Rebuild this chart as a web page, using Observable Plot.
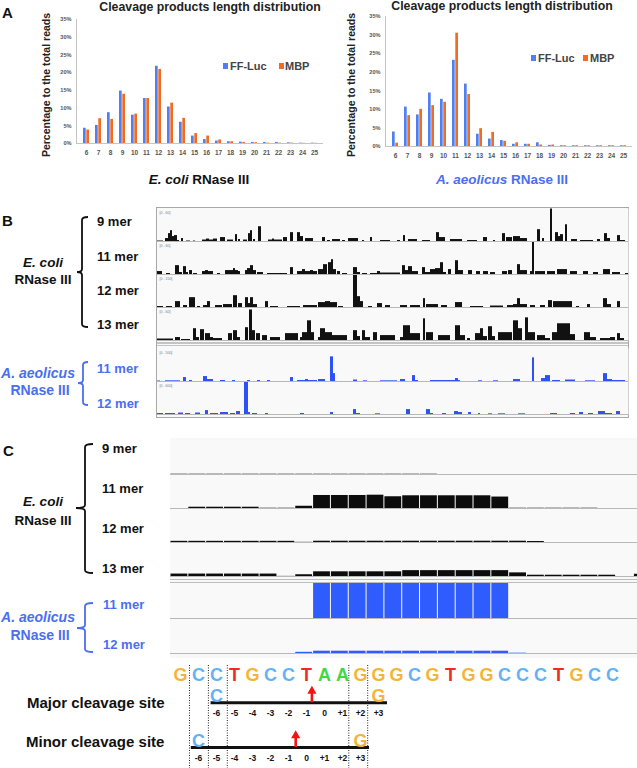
<!DOCTYPE html>
<html>
<head>
<meta charset="utf-8">
<script src="https://cdn.jsdelivr.net/npm/d3@7"></script>
<script src="https://cdn.jsdelivr.net/npm/@observablehq/plot@0.6"></script>
<style>
  html, body { margin: 0; padding: 0; background: #fff; }
  #fig { position: relative; width: 637px; height: 768px; overflow: hidden; font-family: "Liberation Sans", Arial, Helvetica, sans-serif; }
  .abs { position: absolute; }
  .lbl { position: absolute; white-space: nowrap; line-height: 1; }
  #fig svg { display: block; overflow: visible; }
</style>
</head>
<body>
<div id="fig"></div>
<script>
// ---------------- DATA ----------------
// Panel A: cleavage product length distribution (% of total reads)
const lengths = [6, 7, 8, 9, 10, 11, 12, 13, 14, 15, 16, 17, 18, 19, 20, 21, 22, 23, 24, 25];
const yTicks = [0, 5, 10, 15, 20, 25, 30, 35];
const ecoliFF  = [4.3, 5.1, 8.7, 14.8, 8.0, 12.7, 21.8, 10.3, 6.0, 2.1, 1.1, 0.7, 0.5, 0.4, 0.3, 0.3, 0.3, 0.2, 0.1, 0.1];
const ecoliMBP = [3.8, 7.0, 6.8, 13.9, 8.3, 12.7, 20.9, 11.4, 7.1, 2.8, 2.1, 1.0, 0.5, 0.3, 0.2, 0.1, 0.1, 0.1, 0.05, 0.05];
const aaeoFF   = [3.9, 10.6, 8.5, 14.4, 12.7, 23.2, 16.8, 3.3, 2.0, 1.6, 0.6, 0.6, 1.0, 0.3, 0.2, 0.2, 0.2, 0.2, 0.2, 0.2];
const aaeoMBP  = [0.9, 8.3, 10.0, 11.0, 11.9, 30.5, 14.0, 4.8, 3.8, 1.4, 1.0, 0.6, 0.4, 0.4, 0.2, 0.2, 0.2, 0.2, 0.2, 0.2];
const seriesNames = ["FF-Luc", "MBP"];

// Panel B: genome-browser coverage, segments [start, end, coverage]
const bTracksEcoli = ["9 mer", "11 mer", "12 mer", "13 mer"];
const bTracksAaeo = ["11 mer", "12 mer"];
const bRangesEcoli = ["[0 - 60]", "[0 - 60]", "[0 - 150]", "[0 - 60]"];
const bRangesAaeo = ["[0 - 500]", "[0 - 600]"];
const bWindow = [157, 628];
const bEco9 = [[157,163,0.5],[165,168,3],[168,170,8],[170,172,11],[172,174,5],[174,177,6],[177,179,1],[181,183,3],[186,190,0.5],[193,195,0.5],[202,206,1.5],[206,209,2.5],[209,213,1.5],[213,217,2.5],[220,225,4],[227,233,1.5],[235,237,7],[238,240,2],[243,247,1.5],[248,250,8],[250,252,11],[253,255,2],[258,261,15],[268,272,1.5],[272,274,2.5],[274,282,1.5],[283,287,4],[290,293,9],[297,300,9],[300,303,5],[305,313,3],[322,325,4],[327,330,1],[332,340,2],[342,345,1],[348,358,3],[362,364,1],[370,372,4],[380,390,1],[397,400,1],[403,405,6],[408,417,2],[422,430,1],[436,439,9],[439,445,4],[450,462,2],[467,477,1],[483,487,4],[493,495,1],[502,505,8],[506,512,4],[513,520,5],[520,527,3],[537,540,12],[542,544,3],[550,552,33],[555,558,9],[558,560,5],[560,563,7],[565,567,17],[571,577,2],[580,593,1],[597,600,2],[604,607,8],[607,610,3],[617,620,6],[620,625,1]];
const bEco11 = [[157,162,3],[166,170,1],[175,179,9],[179,182,2],[183,186,8],[186,188,2],[189,192,4],[193,197,1],[202,205,3],[205,208,4],[208,213,3],[217,220,1],[225,233,4],[233,235,6],[235,238,4],[238,240,3],[245,247,4],[247,250,6],[250,253,9],[253,256,4],[257,263,2],[267,287,1],[290,293,7],[297,302,3],[302,305,5],[305,310,3],[310,313,4],[313,317,3],[318,323,5],[323,327,10],[328,331,12],[331,333,15],[333,336,5],[337,340,3],[342,347,1],[353,357,7],[357,360,2],[362,367,1],[370,377,1],[377,380,3],[380,400,1.5],[402,405,9],[405,408,4],[408,412,8],[412,418,3],[422,425,7],[425,430,2],[430,435,5],[435,440,6],[440,443,12],[443,446,2],[448,451,5],[455,458,14],[458,463,4],[468,472,4],[476,480,3],[483,488,3],[490,495,2],[502,507,3],[508,512,4],[517,520,10],[520,527,4],[530,532,3],[532,534,33],[535,545,3],[547,555,3],[557,567,5],[570,577,3],[583,588,3],[593,598,2],[603,610,5],[612,620,2],[625,628,1]];
const bEco12 = [[157,163,1],[166,172,1],[175,180,6],[183,187,2],[189,195,10],[197,200,1],[203,207,2],[207,210,6],[215,222,2],[223,232,3],[233,237,12],[238,242,4],[245,248,10],[248,250,4],[250,253,10],[253,257,3],[265,268,6],[270,278,1],[287,300,1],[303,317,2],[318,325,5],[325,330,6],[330,337,5],[338,343,1],[353,357,33],[357,360,11],[360,363,6],[368,372,1],[377,382,4],[385,390,2],[400,407,2],[410,420,2],[423,425,9],[426,438,3],[441,447,2],[455,462,5],[470,483,1],[490,503,1.5],[507,513,2],[513,517,3],[517,520,9],[520,527,3],[530,535,2],[540,545,2],[548,552,7],[553,572,6],[576,579,1],[587,590,3],[603,607,9],[607,611,3],[617,620,6]];
const bEco13 = [[157,173,1.5],[175,180,3],[181,190,1],[193,196,12],[196,199,3],[200,204,11],[205,210,7],[210,213,3],[213,222,2],[228,232,7],[233,237,10],[237,240,3],[245,248,13],[249,252,31],[252,255,10],[256,260,7],[262,267,5],[270,280,3],[285,298,7],[300,302,3],[302,307,8],[307,311,20],[311,314,8],[318,320,3],[320,325,12],[325,332,8],[332,347,5],[353,357,10],[357,360,4],[362,365,10],[365,370,3],[373,377,8],[380,395,5],[400,403,3],[403,410,15],[410,420,7],[423,425,22],[426,433,8],[438,450,5],[455,460,15],[460,465,5],[467,470,2],[475,480,7],[480,483,12],[483,487,4],[488,492,14],[492,495,4],[498,512,8],[513,518,20],[518,522,12],[525,528,23],[528,535,8],[537,545,5],[545,550,2],[552,557,8],[557,570,17],[570,575,6],[584,590,8],[590,596,3],[600,610,2],[610,615,3],[617,620,7],[620,624,2]];
const bAae11 = [[157,160,0.5],[165,180,0.7],[183,186,4],[189,192,1],[203,207,5],[207,213,2],[220,225,1],[232,235,1],[247,250,1],[257,260,1],[267,270,1],[290,293,4],[297,305,1],[305,308,2],[308,317,1],[318,325,2],[330,333,25],[333,335,8],[353,357,1.5],[363,367,0.7],[380,397,0.7],[400,405,2],[412,415,6],[415,418,1],[430,455,1],[455,458,3],[458,460,1],[478,482,0.7],[493,498,0.7],[513,520,2],[532,534,24],[541,545,3],[545,550,6],[552,560,1],[565,575,1.5],[585,595,0.7],[603,607,8],[607,612,2],[612,625,1]];
const bAae12 = [[157,163,1],[165,175,1],[178,183,1.5],[185,190,1],[195,200,1.5],[205,208,4],[210,218,1],[220,228,2],[230,235,1],[236,240,3],[244,248,33],[248,250,2],[252,257,1],[265,268,1],[300,304,1],[330,333,2],[353,356,5],[356,360,1],[375,380,0.7],[406,410,5],[426,430,5],[430,433,1],[442,446,1],[454,458,3],[458,462,2],[468,471,2],[478,480,1],[488,492,0.7],[498,505,0.7],[518,525,0.7],[550,557,1],[570,575,1],[579,583,2],[588,593,1],[598,605,3],[605,612,1],[616,620,3]];

// Panel C: per-base coverage around the cleavage site (one value per column)
const cEco9  = [0.7,0.7,0.7,0.7,0.7,0.7,0.7,0.7,0.7,0.7,0.7,0.7,0.7,0.7,0.7,0,0,0,0,0,0,0,0,0,0,0,0];
const cEco11 = [0,1.3,1.3,1.3,1.3,0.7,0.7,2.3,13.3,13.3,13.3,13.6,12,13,13,13,13,13,11.7,0.7,0.7,0.7,0.7,0.7,0,0,0];
const cEco12 = [1.2,1.2,1.2,1.2,1.2,1.2,1.2,0.4,1.3,1.3,1.3,1.3,1.3,1.3,1.3,1.3,1.3,1.3,1.3,1.3,1.0,0,0,0,0,0,0];
const cEco13 = [2.5,2.5,2.5,2.5,2.5,2.5,0.3,1.8,4.8,4.8,4.8,4.8,4.8,6,6,6,6,6,6,3.7,1.3,1.3,1.3,1.3,1.3,0,2.3];
const cAae11 = [0,0,0,0,0,0,0,0,35,35,35,35,35,35,35,35,35,35,35,0,0,0,0,0,0,0,0];
const cAae12 = [0,0,0,0,0,0,0,1.2,2.3,2.3,2.3,2.3,2.3,2.3,2.3,2.3,2.3,2.3,2.3,0.8,0,0,0,0,0,0,0];
const cWindow = [0, 26.2];

// Sequence and cleavage sites
const sequence = ["G","C","C","T","G","C","C","T","A","A","G","G","G","C","G","T","G","G","C","C","C","T","G","C","C"];
const siteNumbers = ["-6","-5","-4","-3","-2","-1","0","+1","+2","+3"];
const majorStart = 2, minorStart = 1;          // sequence index of position -6
const majorSpan = [1.7, 11.5], minorSpan = [0.6, 10.5];
const majorArrow = 7.3, minorArrow = 6.4;
const boundaries = [0.5, 1.55, 2.6, 9.35, 10.4];

// ---------------- STYLE ----------------
const FONT = '"Liberation Sans", Arial, Helvetica, sans-serif';
const BLUE = "#4f7ff0", ORANGE = "#f26b21";
const TEXTBLUE = "#4a6ff0";
const IGVBLUE = "#2c52f5", IGVBLACK = "#111";
const baseColors = {G: "#f6b437", C: "#62b2f6", T: "#ee2b25", A: "#41d941"};
const RED = "#f21414";

const fig = document.getElementById("fig");
function place(node, left, top) {
  const d = document.createElement("div");
  d.className = "abs";
  d.style.left = left + "px"; d.style.top = top + "px";
  d.appendChild(node); fig.appendChild(d); return d;
}
function box(left, top, width, height, css) {
  const d = document.createElement("div");
  d.className = "abs";
  Object.assign(d.style, {left: left + "px", top: top + "px", width: width + "px", height: height + "px", boxSizing: "border-box"}, css);
  fig.appendChild(d); return d;
}
function label(html, x, y, o = {}) {
  const d = document.createElement("div");
  d.className = "lbl";
  d.innerHTML = html;
  d.style.left = x + "px"; d.style.top = y + "px";
  d.style.fontSize = (o.size || 13) + "px";
  d.style.fontWeight = o.weight || "bold";
  d.style.color = o.color || "#111";
  if (o.italic) d.style.fontStyle = "italic";
  const tx = o.anchor === "middle" ? "-50%" : o.anchor === "end" ? "-100%" : "0";
  d.style.transform = `translate(${tx}, -50%)` + (o.rotate ? ` rotate(${o.rotate}deg)` : "");
  fig.appendChild(d); return d;
}

// ---------------- PANEL A ----------------
function lengthChart(ff, mbp, dims) {
  const ffRows = lengths.map((len, i) => ({len, series: seriesNames[0], value: ff[i]}));
  const mbpRows = lengths.map((len, i) => ({len, series: seriesNames[1], value: mbp[i]}));
  return Plot.plot({
    ...dims,
    style: {background: "transparent", fontFamily: FONT, fontWeight: "bold", color: "#555"},
    x: {type: "band", domain: lengths, paddingInner: 0.5, paddingOuter: 0.2},
    y: {domain: [0, 35]},
    marks: [
      Plot.axisY({ticks: yTicks, tickFormat: d => d + "%", tickSize: 0, tickPadding: 5, fontSize: 5.6, label: null}),
      Plot.axisX({tickSize: 0, tickPadding: 6.5, fontSize: 6.5, label: null}),
      Plot.frame({anchor: "left", stroke: "#c4c4c4"}),
      Plot.ruleY([0], {stroke: "#c4c4c4"}),
      Plot.barY(ffRows, {x: "len", y: "value", fill: BLUE, insetRight: 3.3}),
      Plot.barY(mbpRows, {x: "len", y: "value", fill: ORANGE, insetLeft: 3.3})
    ]
  });
}
place(lengthChart(ecoliFF, ecoliMBP, {width: 330, height: 163, marginLeft: 76, marginRight: 7, marginTop: 19, marginBottom: 20}), 0, 0);
place(lengthChart(aaeoFF, aaeoMBP, {width: 328, height: 166, marginLeft: 76, marginRight: 4.8, marginTop: 16, marginBottom: 20}), 309, 0);

label("A", 2, 12, {size: 15});
label("Cleavage products length distribution", 210, 7, {size: 12.3, anchor: "middle", color: "#222"});
label("Cleavage products length distribution", 502, 6, {size: 12.3, anchor: "middle", color: "#222"});
label("Percentage to the total reads", 46, 85, {size: 10.5, anchor: "middle", rotate: -90, color: "#222"});
label("Percentage to the total reads", 351, 85, {size: 10.5, anchor: "middle", rotate: -90, color: "#222"});
// legends
function legend(items) {
  for (const it of items) {
    box(it.sx, it.y - 3, 5, 6, {background: it.color});
    label(it.name, it.tx, it.y, {size: 11, color: "#444"});
  }
}
legend([{name: seriesNames[0], color: BLUE, sx: 223, tx: 230, y: 66}, {name: seriesNames[1], color: ORANGE, sx: 278.5, tx: 285, y: 66}]);
legend([{name: seriesNames[0], color: BLUE, sx: 531, tx: 538, y: 58}, {name: seriesNames[1], color: ORANGE, sx: 583, tx: 590, y: 58}]);
label("<i>E. coli</i> RNase III", 199, 180, {size: 13.5, anchor: "middle", color: "#111"});
label("<i>A. aeolicus</i> RNase III", 502, 180, {size: 13.5, anchor: "middle", color: TEXTBLUE});

// ---------------- TRACK PLOTS ----------------
function trackPlot(names, rows, rangeLabels, {width, height, xDomain, yMax, inset = 0}) {
  return Plot.plot({
    width, height, marginTop: 0, marginBottom: 0, marginLeft: 0, marginRight: 0,
    style: {background: "transparent", fontFamily: FONT},
    color: {type: "identity"},
    x: {domain: xDomain, axis: null},
    y: {domain: [0, yMax], axis: null},
    fy: {domain: names, padding: 0, axis: null},
    marks: [
      Plot.frame({fill: "#f9f9f9", stroke: "none"}),
      Plot.rectY(rows, {x1: "x1", x2: "x2", y: "h", fy: "track", fill: "fill", insetLeft: inset, insetRight: inset}),
      Plot.ruleY([0], {stroke: "#b8b8b8"}),
      ...(rangeLabels ? [Plot.text(names.map((n, i) => ({track: n, label: rangeLabels[i]})),
          {fy: "track", text: "label", frameAnchor: "top-left", dx: 2, dy: 3, fontSize: 3.5, fill: "#777"})] : [])
    ]
  });
}
function segRows(names, tracks, color) {
  return tracks.flatMap((segs, k) => segs.map(([x1, x2, h]) => ({track: names[k], x1, x2, h, fill: color})));
}
function colRows(names, tracks, dark, light) {
  return tracks.flatMap((vals, k) => vals.map((h, i) => ({track: names[k], x1: i, x2: i + 1, h, fill: h < 1 ? light : dark})).filter(d => d.h > 0));
}

// ---------------- PANEL B ----------------
box(156, 207, 473, 211, {border: "1px solid #a8a8a8", background: "#f9f9f9"});
place(trackPlot(bTracksEcoli, segRows(bTracksEcoli, [bEco9, bEco11, bEco12, bEco13], IGVBLACK), bRangesEcoli,
  {width: 471, height: 132, xDomain: bWindow, yMax: 33.5}), 157, 208);
box(157, 342, 471, 4, {borderTop: "2px solid #c4c4c4", borderBottom: "1px solid #c4c4c4"});
place(trackPlot(bTracksAaeo, segRows(bTracksAaeo, [bAae11, bAae12], IGVBLUE), bRangesAaeo,
  {width: 471, height: 67, xDomain: bWindow, yMax: 33.5}), 157, 346.5);

label("B", 2, 220, {size: 15});
label("9 mer", 97, 221, {size: 13});
label("11 mer", 97, 256, {size: 13});
label("12 mer", 97, 290, {size: 13});
label("13 mer", 97, 324, {size: 13});
label("<i>E. coli</i>", 43, 263, {size: 13.5, anchor: "middle"});
label("RNase III", 43, 280, {size: 13.5, anchor: "middle"});
label("11 mer", 97, 368, {size: 13, color: TEXTBLUE});
label("12 mer", 97, 403, {size: 13, color: TEXTBLUE});
label("<i>A. aeolicus</i>", 38, 373, {size: 14, anchor: "middle", color: TEXTBLUE});
label("RNase III", 40, 390, {size: 14, anchor: "middle", color: TEXTBLUE});

// ---------------- PANEL C ----------------
box(170, 438, 467, 220, {background: "#f8f8f8"});
place(trackPlot(bTracksEcoli, colRows(bTracksEcoli, [cEco9, cEco11, cEco12, cEco13], "#0c0c0c", "#9a9a9a"), null,
  {width: 467, height: 139, xDomain: cWindow, yMax: 34.75, inset: 0.5}), 170, 438);
box(170, 579, 467, 4, {borderTop: "1px solid #bdbdbd", borderBottom: "1px solid #bdbdbd"});
place(trackPlot(bTracksAaeo, colRows(bTracksAaeo, [cAae11, cAae12], "#2f5cff", "#a4b8ff"), null,
  {width: 467, height: 70, xDomain: cWindow, yMax: 35, inset: 0.5}), 170, 583);

label("C", 3, 450, {size: 15});
label("9 mer", 102, 448, {size: 13});
label("11 mer", 102, 488, {size: 13});
label("12 mer", 102, 528, {size: 13});
label("13 mer", 102, 568, {size: 13});
label("<i>E. coli</i>", 43, 502, {size: 13.5, anchor: "middle"});
label("RNase III", 43, 521, {size: 13.5, anchor: "middle"});
label("11 mer", 103, 604, {size: 13, color: TEXTBLUE});
label("12 mer", 103, 644, {size: 13, color: TEXTBLUE});
label("<i>A. aeolicus</i>", 38, 617, {size: 14, anchor: "middle", color: TEXTBLUE});
label("RNase III", 40, 635, {size: 14, anchor: "middle", color: TEXTBLUE});

// ---------------- SEQUENCE + CLEAVAGE SITES ----------------
const rowY = {seq: 15, majorHead: 30.5, majorLetter: 36, majorLine: 42.3, majorNum: 53,
              minorHead: 75, minorLetter: 80.5, minorLine: 87, minorNum: 98};
const seqRows = sequence.map((b, i) => ({i, b, fill: baseColors[b], y: rowY.seq}));
const flankRows = [
  {i: majorStart, b: sequence[majorStart], y: rowY.majorLetter},
  {i: majorStart + 9, b: sequence[majorStart + 9], y: rowY.majorLetter},
  {i: minorStart, b: sequence[minorStart], y: rowY.minorLetter},
  {i: minorStart + 9, b: sequence[minorStart + 9], y: rowY.minorLetter}
].map(d => ({...d, fill: baseColors[d.b]}));
const numRows = [
  ...siteNumbers.map((t, k) => ({i: majorStart + k, t, y: rowY.majorNum})),
  ...siteNumbers.map((t, k) => ({i: minorStart + k, t, y: rowY.minorNum}))
];
const lineRows = [{x1: majorSpan[0], x2: majorSpan[1], y: rowY.majorLine}, {x1: minorSpan[0], x2: minorSpan[1], y: rowY.minorLine}];
const arrowRows = [{x: majorArrow, y1: rowY.majorLine, y2: rowY.majorHead, head: rowY.majorHead},
                   {x: minorArrow, y1: rowY.minorLine, y2: rowY.minorHead, head: rowY.minorHead}];
const seqPlot = Plot.plot({
  width: 487, height: 108, marginTop: 5, marginBottom: 0, marginLeft: 0, marginRight: 0,
  style: {background: "transparent", fontFamily: FONT},
  color: {type: "identity"},
  x: {domain: [0, 24], range: [30, 462], axis: null},
  y: {domain: [0, 108], range: [0, 108], axis: null},
  marks: [
    Plot.ruleX(boundaries, {stroke: "#222", strokeDasharray: "1,1.5", strokeWidth: 1}),
    Plot.ruleY(lineRows, {x1: "x1", x2: "x2", y: "y", stroke: "#111", strokeWidth: 3}),
    Plot.text(seqRows, {x: "i", y: "y", text: "b", fill: "fill", fontSize: 18, fontWeight: "bold"}),
    Plot.text(flankRows, {x: "i", y: "y", text: "b", fill: "fill", fontSize: 18, fontWeight: "bold"}),
    Plot.text(numRows, {x: "i", y: "y", text: "t", fill: "#111", fontSize: 8.5, fontWeight: "bold"}),
    Plot.ruleX(arrowRows, {x: "x", y1: "y1", y2: "y2", stroke: RED, strokeWidth: 2.6}),
    Plot.dot(arrowRows, {x: "x", y: "head", symbol: "triangle", r: 3.4, fill: RED, stroke: "none"})
  ]
});
place(seqPlot, 150, 660);
label("Major cleavage site", 27, 702, {size: 15});
label("Minor cleavage site", 26, 741, {size: 15});

// ---------------- BRACKETS ----------------
const svg = d3.select(fig).append("svg")
  .attr("width", 637).attr("height", 768)
  .style("position", "absolute").style("left", 0).style("top", 0).style("pointer-events", "none");
function bracket(x, y1, y2, ym, hook, notch, color) {
  const p = d3.path();
  p.moveTo(x + hook, y1); p.quadraticCurveTo(x, y1, x, y1 + 3);
  p.lineTo(x, ym - 3); p.quadraticCurveTo(x, ym, x - notch, ym);
  p.quadraticCurveTo(x, ym, x, ym + 3);
  p.lineTo(x, y2 - 3); p.quadraticCurveTo(x, y2, x + hook, y2);
  svg.append("path").attr("d", p.toString()).attr("fill", "none").attr("stroke", color).attr("stroke-width", 1.8);
}
bracket(82, 217, 327, 272, 6, 5, "#111");
bracket(83, 362, 405, 383, 5, 5, TEXTBLUE);
bracket(85, 444, 573, 508, 8, 9, "#111");
bracket(85, 603, 652, 628, 8, 8, TEXTBLUE);
</script>
</body>
</html>
